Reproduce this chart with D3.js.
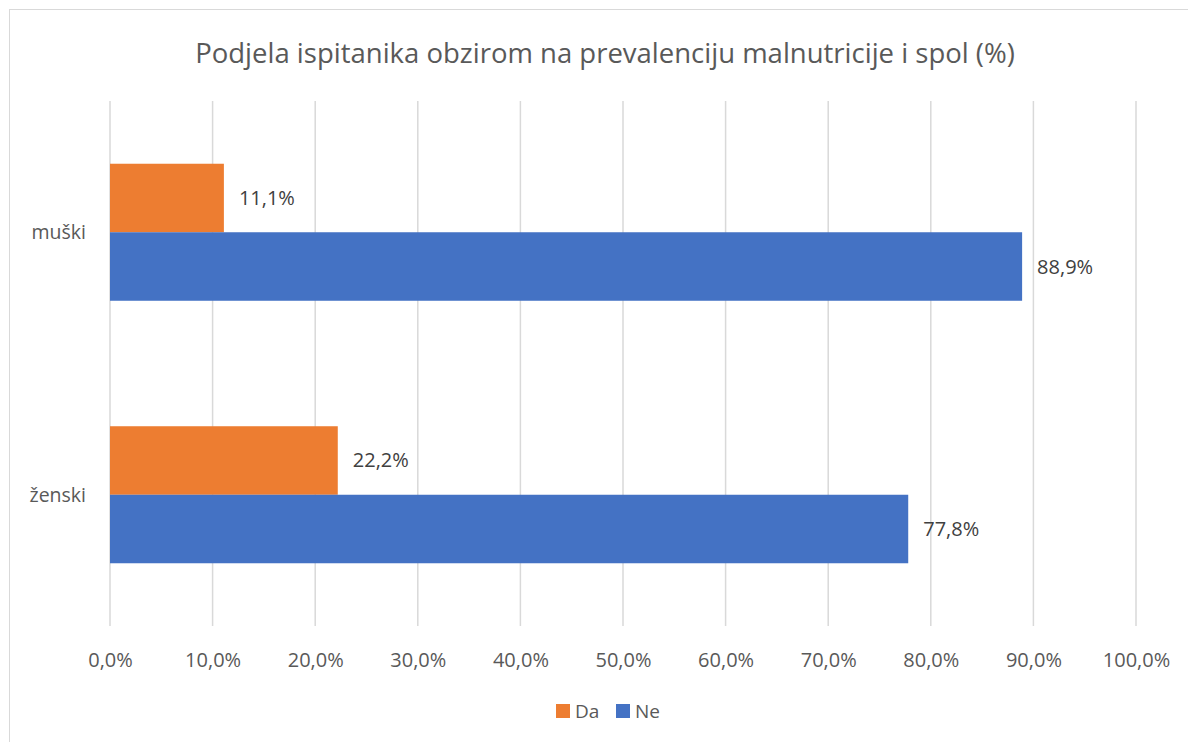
<!DOCTYPE html>
<html>
<head>
<meta charset="utf-8">
<script src="https://cdn.jsdelivr.net/npm/d3@7"></script>
<style>
  body { margin: 0; background: #fff; }
  svg text { font-family: "Open Sans", "Noto Sans", sans-serif; }
</style>
</head>
<body>
<svg id="chart"></svg>
<script>
const WIDTH = 1188,
  HEIGHT = 742;

// data
const categories = ["muški", "ženski"],
  series = ["Da", "Ne"],
  daValues = [11.1, 22.2],
  neValues = [88.9, 77.8],
  xTicks = [0, 10, 20, 30, 40, 50, 60, 70, 80, 90, 100],
  colors = { Da: "#ED7D31", Ne: "#4472C4" };

const rows = categories.map((c, i) => ({ cat: c, Da: daValues[i], Ne: neValues[i] }));

const fmt = v => d3.format(".1f")(v).replace(".", ",") + "%";

const svg = d3.select("#chart")
  .attr("width", WIDTH)
  .attr("height", HEIGHT);

// chart area border (extends past right / bottom like the source)
svg.append("rect")
  .attr("x", 9.5).attr("y", 9.5)
  .attr("width", WIDTH).attr("height", HEIGHT)
  .attr("fill", "#fff")
  .attr("stroke", "#d9d9d9")
  .attr("stroke-width", 1);

svg.append("text")
  .attr("x", 605).attr("y", 63)
  .attr("text-anchor", "middle")
  .attr("fill", "#595959")
  .attr("font-size", 27.5)
  .text("Podjela ispitanika obzirom na prevalenciju malnutricije i spol (%)");

const x = d3.scaleLinear().domain([0, 100]).range([110, 1136]);

const y = d3.scaleBand()
  .domain(categories)
  .range([101, 626])
  .paddingInner(0.478)
  .paddingOuter(0.239);

const ySub = d3.scaleBand()
  .domain(series)
  .range([0, y.bandwidth()]);

// gridlines
svg.append("g")
  .selectAll("line")
  .data(xTicks)
  .join("line")
  .attr("x1", d => x(d)).attr("x2", d => x(d))
  .attr("y1", 101).attr("y2", 626)
  .attr("stroke", "#d9d9d9")
  .attr("stroke-width", 1.5);

// x axis labels
const xAxis = d3.axisBottom(x)
  .tickValues(xTicks)
  .tickSize(0)
  .tickPadding(0)
  .tickFormat(fmt);

const gx = svg.append("g")
  .attr("transform", "translate(0,667)")
  .call(xAxis);
gx.select(".domain").remove();
gx.selectAll("text")
  .attr("dy", 0)
  .attr("fill", "#595959")
  .attr("font-size", 20)
  .attr("font-family", "\"Open Sans\", sans-serif");

// y axis labels
const yAxis = d3.axisLeft(y).tickSize(0).tickPadding(24);
const gy = svg.append("g")
  .attr("transform", "translate(110,0)")
  .call(yAxis);
gy.select(".domain").remove();
gy.selectAll("text")
  .attr("dy", "0.35em")
  .attr("fill", "#595959")
  .attr("font-size", 19.5)
  .attr("font-family", "\"Open Sans\", sans-serif");

// bars
const groups = svg.append("g")
  .selectAll("g")
  .data(rows)
  .join("g")
  .attr("transform", d => `translate(0,${y(d.cat)})`);

groups.selectAll("rect")
  .data(d => series.map(s => ({ s, v: d[s] })))
  .join("rect")
  .attr("x", x(0))
  .attr("y", d => ySub(d.s))
  .attr("width", d => x(d.v) - x(0))
  .attr("height", ySub.bandwidth())
  .attr("fill", d => colors[d.s]);

groups.selectAll("text")
  .data(d => series.map(s => ({ s, v: d[s] })))
  .join("text")
  .attr("x", d => x(d.v) + 15)
  .attr("y", d => ySub(d.s) + ySub.bandwidth() / 2)
  .attr("dy", "0.35em")
  .attr("fill", "#404040")
  .attr("font-size", 20)
  .text(d => fmt(d.v));

// legend
const legend = svg.append("g").attr("transform", "translate(556,704)");
const legendX = [0, 60];
series.forEach((s, i) => {
  const lg = legend.append("g").attr("transform", `translate(${legendX[i]},0)`);
  lg.append("rect")
    .attr("width", 14).attr("height", 14)
    .attr("fill", colors[s]);
  lg.append("text")
    .attr("x", 19).attr("y", 7)
    .attr("dy", "0.35em")
    .attr("fill", "#595959")
    .attr("font-size", 19)
    .text(s);
});
</script>
</body>
</html>
